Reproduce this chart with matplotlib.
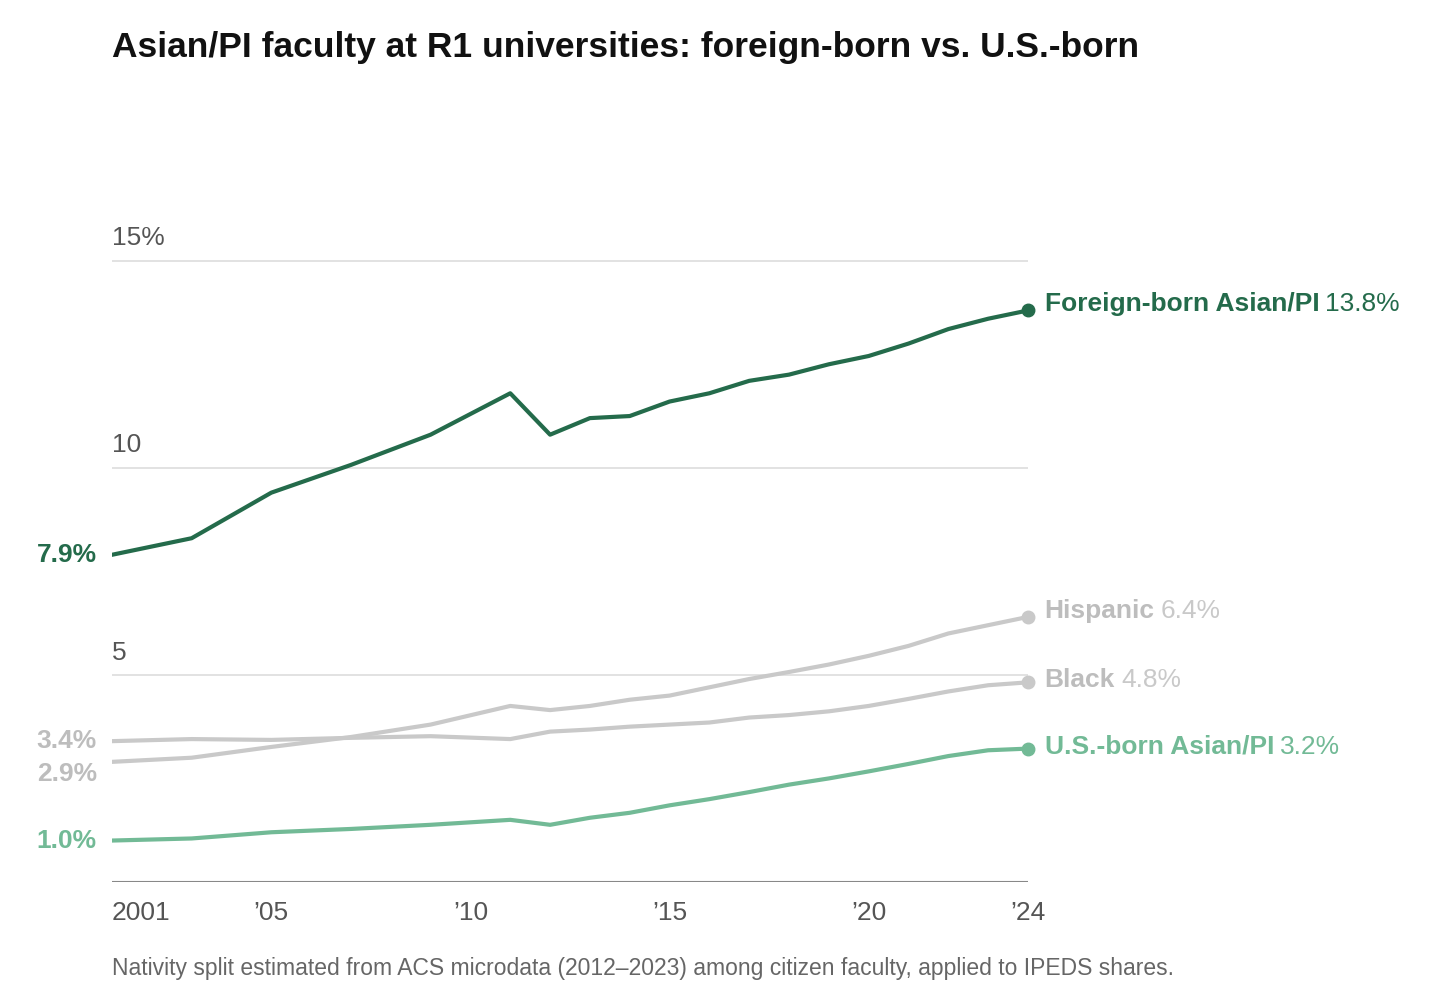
import matplotlib
matplotlib.use("Agg")
import matplotlib.pyplot as plt

plt.rcParams['font.family'] = ['Liberation Sans', 'DejaVu Sans']

years = [2001, 2003, 2005, 2007, 2009, 2011, 2012, 2013, 2014, 2015, 2016, 2017, 2018, 2019, 2020, 2021, 2022, 2023, 2024]
foreign = [7.9, 8.3, 9.4, 10.07, 10.8, 11.8, 10.8, 11.2, 11.25, 11.6, 11.8, 12.1, 12.25, 12.5, 12.7, 13.0, 13.35, 13.6, 13.8]
hispanic = [2.9, 3.0, 3.26, 3.5, 3.8, 4.25, 4.15, 4.25, 4.4, 4.5, 4.7, 4.9, 5.07, 5.25, 5.46, 5.7, 6.0, 6.2, 6.4]
black = [3.4, 3.45, 3.43, 3.48, 3.52, 3.45, 3.63, 3.68, 3.75, 3.8, 3.85, 3.97, 4.03, 4.12, 4.25, 4.42, 4.6, 4.75, 4.82]
usborn = [1.0, 1.05, 1.2, 1.28, 1.38, 1.5, 1.38, 1.55, 1.67, 1.85, 2.0, 2.17, 2.35, 2.5, 2.67, 2.85, 3.04, 3.18, 3.22]
yticks = [5, 10, 15]
ytick_labels = ["5", "10", "15%"]
xticks = [2001, 2005, 2010, 2015, 2020, 2024]
xtick_labels = ["2001", "\u201905", "\u201910", "\u201915", "\u201920", "\u201924"]

DARK = "#246b4b"
LIGHT = "#72ba96"
GRAY = "#c9c9c9"
TXT = "#555555"

fig = plt.figure(figsize=(14.56, 10.06), dpi=100)
ax = fig.add_axes([112/1456, 0.1233, (1028-112)/1456, 0.7614-0.1233])
ax.set_xlim(2001, 2024)
ax.set_ylim(0, 15.5)
for s in ax.spines.values():
    s.set_visible(False)
ax.set_xticks([]); ax.set_yticks([])
for t, l in zip(yticks, ytick_labels):
    ax.axhline(t, color="#dddddd", lw=1.2, zorder=0)
    ax.text(2001, t + 0.25, l, fontsize=19, color=TXT, va="bottom", ha="left")
ax.axhline(0, color="#888888", lw=1.5, zorder=0)
for t, l in zip(xticks, xtick_labels):
    ax.text(t, -0.45, l, fontsize=19, color=TXT, va="top", ha="left" if t == 2001 else "center")

series = [
    (hispanic, GRAY, "Hispanic", "#bdbdbd", "#c9c9c9", 0.15),
    (black, GRAY, "Black", "#bdbdbd", "#c9c9c9", 0.05),
    (usborn, LIGHT, "U.S.-born Asian/PI", LIGHT, LIGHT, 0.05),
    (foreign, DARK, "Foreign-born Asian/PI", DARK, DARK, 0.15),
]
name_texts = []
for vals, c, name, nc, vc, dy in series:
    ax.plot(years, vals, color=c, lw=3, solid_joinstyle="round", zorder=3)
    ax.plot(years[-1], vals[-1], "o", color=c, ms=9, zorder=4, clip_on=False)
    a = ax.annotate(name, (years[-1], vals[-1] + dy), xytext=(12, 0), textcoords="offset points",
                    fontsize=19, fontweight="bold", color=nc, va="center", ha="left")
    name_texts.append(a)

fig.canvas.draw()
r = fig.canvas.get_renderer()
for ann, (vals, c, name, nc, vc, dy) in zip(name_texts, series):
    bb = ann.get_window_extent(r)
    fig.text((bb.x1 + 6) / 1456, (bb.y0 + bb.y1) / 2 / 1006, f"{vals[-1]:.1f}%", fontsize=19, color=vc, va="center", ha="left")

start_labels = [(foreign[0], DARK, 0), (black[0], "#bdbdbd", 0), (hispanic[0], "#bdbdbd", -0.3), (usborn[0], LIGHT, 0)]
for v, c, off in start_labels:
    ax.text(2000.62, v + off, f"{v:.1f}%", fontsize=19, fontweight="bold", color=c, va="center", ha="right", clip_on=False)

fig.text(112/1456, 1 - 47/1006, "Asian/PI faculty at R1 universities: foreign-born vs. U.S.-born",
         fontsize=25.5, fontweight="bold", color="#111111", va="center", ha="left")
fig.text(112/1456, 1 - 968/1006, "Nativity split estimated from ACS microdata (2012\u20132023) among citizen faculty, applied to IPEDS shares.",
         fontsize=16.5, color="#666666", va="center", ha="left")

fig.savefig("out.png", dpi=100)
